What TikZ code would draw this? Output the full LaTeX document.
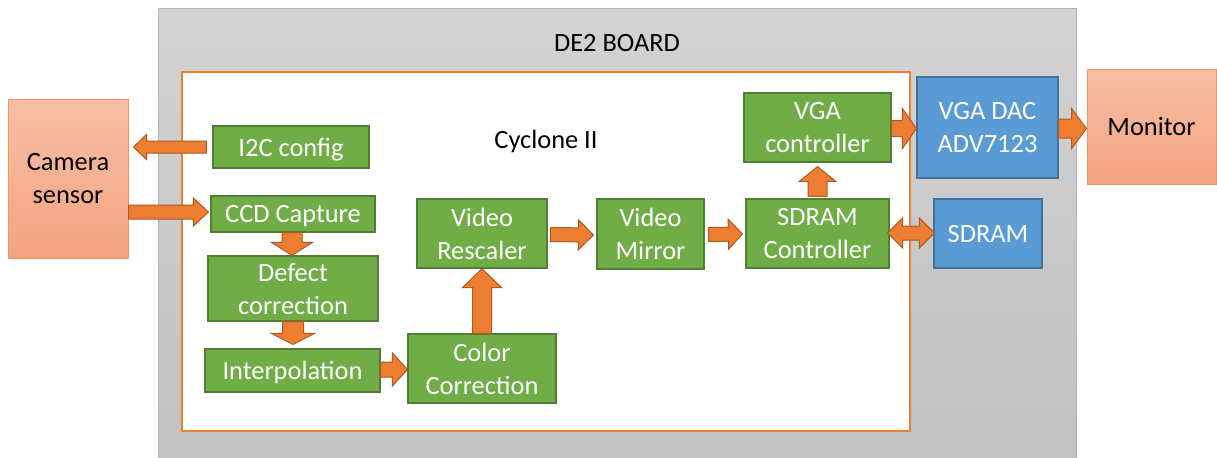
\documentclass[tikz,border=0pt]{standalone}
\usepackage{fontspec}
\setmainfont{Carlito}
\usetikzlibrary{calc}
\definecolor{gfill}{HTML}{70AD47}
\definecolor{gline}{HTML}{507E32}
\definecolor{bfill}{HTML}{5B9BD5}
\definecolor{bline}{HTML}{41719C}
\definecolor{aorange}{HTML}{ED7D31}
\definecolor{aline}{HTML}{AE5A21}
\definecolor{salmontop}{HTML}{F7BEA5}
\definecolor{salmonbot}{HTML}{F4A481}
\definecolor{salmonline}{HTML}{F2955F}
\definecolor{boardtop}{HTML}{D3D3D3}
\definecolor{boardbot}{HTML}{C0C0C0}
\definecolor{boardline}{HTML}{B4B4B4}
\newcommand{\lblfont}{\fontsize{13.2}{16.5}\selectfont}
\newcommand{\blkarrow}[5]{%
  \path[blkarrow] let \p1=(#1), \p2=(#2), \n1={atan2(\y2-\y1,\x2-\x1)} in
    ($(\p1)+(\n1+90:#3)$) -- ($(\p2)+(\n1+180:#5)+(\n1+90:#3)$) --
    ($(\p2)+(\n1+180:#5)+(\n1+90:#4)$) -- (\p2) --
    ($(\p2)+(\n1+180:#5)+(\n1-90:#4)$) -- ($(\p2)+(\n1+180:#5)+(\n1-90:#3)$) --
    ($(\p1)+(\n1-90:#3)$) -- cycle;}
\newcommand{\blkdarrow}[5]{%
  \path[blkarrow] let \p1=(#1), \p2=(#2), \n1={atan2(\y2-\y1,\x2-\x1)} in
    (\p1) -- ($(\p1)+(\n1:#5)+(\n1+90:#4)$) -- ($(\p1)+(\n1:#5)+(\n1+90:#3)$) --
    ($(\p2)+(\n1+180:#5)+(\n1+90:#3)$) -- ($(\p2)+(\n1+180:#5)+(\n1+90:#4)$) -- (\p2) --
    ($(\p2)+(\n1+180:#5)+(\n1-90:#4)$) -- ($(\p2)+(\n1+180:#5)+(\n1-90:#3)$) --
    ($(\p1)+(\n1:#5)+(\n1-90:#3)$) -- ($(\p1)+(\n1:#5)+(\n1-90:#4)$) -- cycle;}
\tikzset{
  blkarrow/.style={draw=aline, fill=aorange, line width=0.5pt, line join=miter},
  gbox/.style={draw=gline, fill=gfill, line width=0.6pt, text=white, align=center,
    inner sep=0pt, font=\lblfont, text depth=0pt},
  bbox/.style={draw=bline, fill=bfill, line width=0.6pt, text=white, align=center,
    inner sep=0pt, font=\lblfont, text depth=0pt},
  sbox/.style={draw=salmonline, top color=salmontop, bottom color=salmonbot,
    line width=0.5pt, text=black, align=center, inner sep=0pt, font=\lblfont, text depth=0pt},
  boardbox/.style={draw=boardline, top color=boardtop, bottom color=boardbot, line width=0.5pt},
  chipbox/.style={draw=aorange, fill=white, line width=0.6pt},
  title/.style={inner sep=0pt, text=black, font=\lblfont},
}
\begin{document}
\begin{tikzpicture}[x=0.5pt, y=-0.5pt]
\useasboundingbox (0,0) rectangle (1217,457);
% board and chip
\path[boardbox] (158,8) rectangle (1076,470);
\node[title] (de2) at (617,43) {DE2 BOARD};
\path[chipbox] (182,72) rectangle (910,431);
\node[title] (cyc) at (546,141) {Cyclone II};
% external
\node[sbox, minimum width=60pt, minimum height=79.5pt] (cam) at (68,178.5) {Camera\\sensor};
\node[sbox, minimum width=64.5pt, minimum height=57.5pt] (mon) at (1151.5,126.5) {Monitor};
% green blocks
\node[gbox, minimum width=78pt, minimum height=21pt] (i2c) at (291,147) {I2C config};
\node[gbox, minimum width=82pt, minimum height=18pt] (ccd) at (293,214) {CCD Capture};
\node[gbox, minimum width=85pt, minimum height=32.5pt] (def) at (293,288.5) {Defect\\correction};
\node[gbox, minimum width=87.5pt, minimum height=21.5pt] (interp) at (292.5,370.5) {Interpolation};
\node[gbox, minimum width=74pt, minimum height=34.5pt] (color) at (482,368.5) {Color\\Correction};
\node[gbox, minimum width=65pt, minimum height=34.5pt] (resc) at (482,233.5) {Video\\Rescaler};
\node[gbox, minimum width=53.5pt, minimum height=35pt] (mirror) at (650.5,234) {Video\\Mirror};
\node[gbox, minimum width=71.5pt, minimum height=34.5pt] (ctrl) at (817.5,233.5) {SDRAM\\Controller};
\node[gbox, minimum width=73.5pt, minimum height=34.5pt] (vga) at (817.5,127.5) {VGA\\controller};
% blue blocks
\node[bbox, minimum width=70.5pt, minimum height=50.5pt] (dac) at (987.5,127.5) {VGA DAC\\ADV7123};
\node[bbox, minimum width=54pt, minimum height=34.5pt] (sdram) at (988,233.5) {SDRAM};
% arrows
\blkarrow{$(i2c.west)+(-6,0)$}{$(cam.east |- i2c.west)+(5,0)$}{3pt}{6.25pt}{6.5pt}
\blkarrow{$(cam.east |- ccd.west)+(0,-2)$}{$(ccd.west)+(-2,-2)$}{3.5pt}{7pt}{7.5pt}
\blkarrow{$(ccd.south)+(-1,0)$}{$(def.north)+(-1,0)$}{5pt}{10.25pt}{6.5pt}
\blkarrow{def.south}{$(interp.north -| def.south)+(0,-4)$}{5.25pt}{10.75pt}{5.5pt}
\blkarrow{$(interp.east)+(0,-1)$}{$(color.west |- interp.east)+(0,-1)$}{3.75pt}{8.25pt}{7.5pt}
\blkarrow{color.north}{resc.south}{4.75pt}{9.75pt}{9.5pt}
\blkarrow{$(resc.east)+(3,1)$}{$(mirror.west)+(-3,1)$}{3.5pt}{7.5pt}{7.5pt}
\blkarrow{$(mirror.east)+(4,0.5)$}{$(ctrl.west)+(-3,0.5)$}{3.5pt}{7.5pt}{7pt}
\blkarrow{$(ctrl.north)+(0,-2)$}{$(vga.south)+(0,4)$}{4.75pt}{9.25pt}{7.5pt}
\blkarrow{$(vga.east)+(0,1)$}{$(dac.west |- vga.east)+(0,1)$}{4pt}{10pt}{7pt}
\blkarrow{$(dac.east)+(0,1)$}{$(mon.west |- dac.east)+(0,1)$}{4.75pt}{10pt}{7.5pt}
\blkdarrow{$(ctrl.east)+(-2,-0.5)$}{$(sdram.west |- ctrl.east)+(1,-0.5)$}{3.5pt}{7.5pt}{7.5pt}
\end{tikzpicture}
\end{document}
